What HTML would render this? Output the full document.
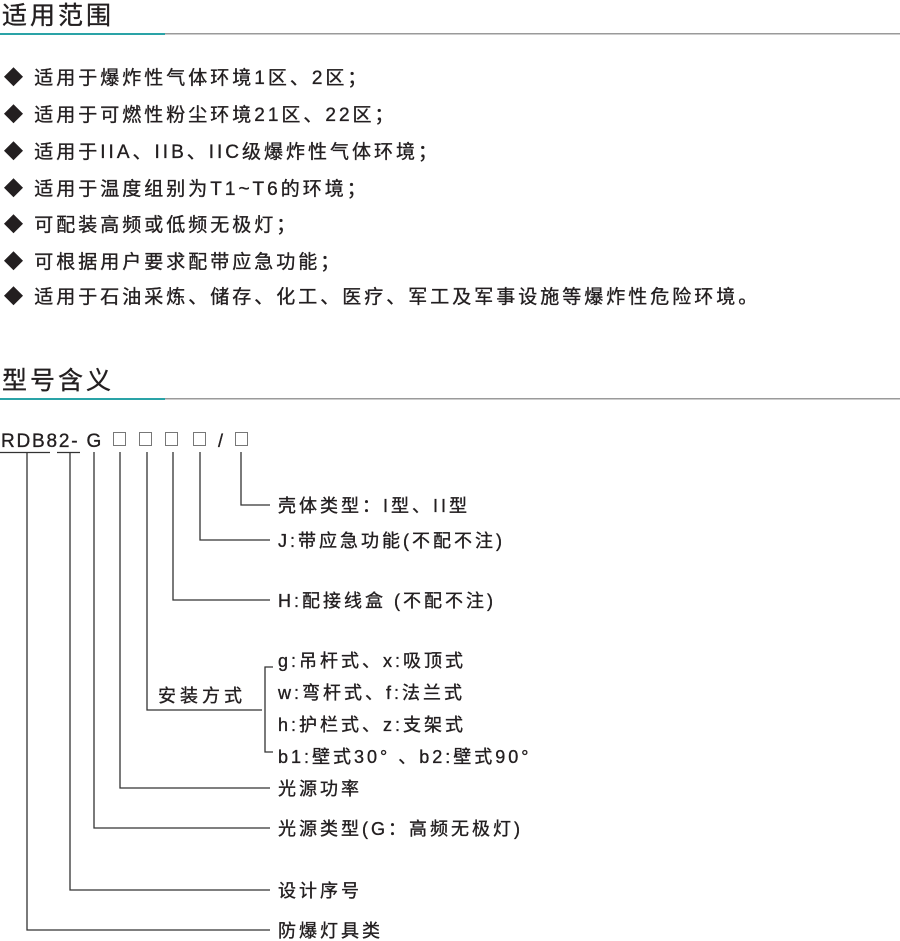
<!DOCTYPE html>
<html><head><meta charset="utf-8">
<style>
html,body{margin:0;padding:0;background:#fff;}
svg{display:block;}
text{font-family:"Liberation Sans","Noto Sans CJK SC",sans-serif;fill:#231f20;stroke:#231f20;stroke-width:0.35;}
</style></head>
<body>
<svg width="900" height="941" viewBox="0 0 900 941" xmlns="http://www.w3.org/2000/svg">
<!-- headers -->
<text x="2" y="24" font-size="25" letter-spacing="3">适用范围</text>
<rect x="0" y="33" width="165" height="2" fill="#2aa3a7"/>
<rect x="165" y="33" width="735" height="1.5" fill="#9a9a9a"/>
<text x="2" y="389" font-size="25" letter-spacing="3">型号含义</text>
<rect x="0" y="398" width="165" height="2" fill="#2aa3a7"/>
<rect x="165" y="398" width="735" height="1.5" fill="#9a9a9a"/>

<g font-size="19" letter-spacing="3">
<text x="4" y="84">◆ 适用于爆炸性气体环境1区、2区；</text>
<text x="4" y="121">◆ 适用于可燃性粉尘环境21区、22区；</text>
<text x="4" y="158">◆ 适用于IIA、IIB、IIC级爆炸性气体环境；</text>
<text x="4" y="195">◆ 适用于温度组别为T1~T6的环境；</text>
<text x="4" y="231">◆ 可配装高频或低频无极灯；</text>
<text x="4" y="268">◆ 可根据用户要求配带应急功能；</text>
<text x="4" y="303">◆ 适用于石油采炼、储存、化工、医疗、军工及军事设施等爆炸性危险环境。</text>
</g>

<!-- code -->
<text x="1" y="447" font-size="19" letter-spacing="1.8">RDB82- G</text>
<g fill="none" stroke="#777" stroke-width="1">
<rect x="113.5" y="432.5" width="12" height="13"/>
<rect x="139.5" y="432.5" width="12" height="13"/>
<rect x="165.5" y="432.5" width="12" height="13"/>
<rect x="193.5" y="432.5" width="12" height="13"/>
<rect x="235.5" y="432.5" width="12" height="13"/>
</g>
<text x="218" y="447" font-size="18">/</text>
<g stroke="#333" stroke-width="1.3" fill="none">
<line x1="0" y1="452.5" x2="50" y2="452.5"/>
<line x1="57" y1="452.5" x2="80" y2="452.5"/>
<polyline points="241,452 241,505 270,505"/>
<polyline points="200,452 200,540 270,540"/>
<polyline points="173,452 173,600 270,600"/>
<polyline points="147,452 147,710 262,710"/>
<polyline points="120,452 120,788 270,788"/>
<polyline points="94,452 94,828 270,828"/>
<polyline points="70,452 70,890 270,890"/>
<polyline points="27,452 27,930 270,930"/>
<polyline points="273,667 265,667 265,752 273,752"/>
</g>
<g font-size="18" letter-spacing="3">
<text x="278" y="512">壳体类型：I型、II型</text>
<text x="278" y="547">J:带应急功能(不配不注)</text>
<text x="278" y="607">H:配接线盒 (不配不注)</text>
<text x="158" y="702" letter-spacing="4">安装方式</text>
<text x="278" y="667">g:吊杆式、x:吸顶式</text>
<text x="278" y="699">w:弯杆式、f:法兰式</text>
<text x="278" y="731">h:护栏式、z:支架式</text>
<text x="278" y="763">b1:壁式30° 、b2:壁式90°</text>
<text x="278" y="795">光源功率</text>
<text x="278" y="835">光源类型(G：高频无极灯)</text>
<text x="278" y="897">设计序号</text>
<text x="278" y="937">防爆灯具类</text>
</g>
</svg>
</body></html>
